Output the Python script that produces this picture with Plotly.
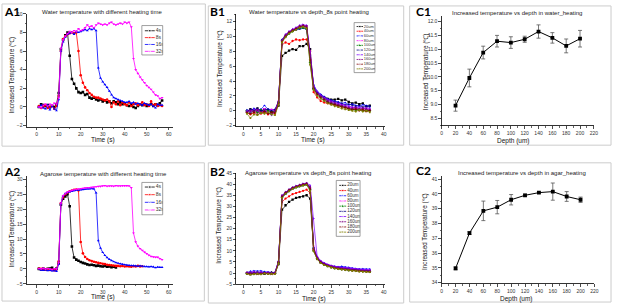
import plotly.graph_objects as go

W, H = 617, 307
FONT = "Liberation Sans"

# ---------------- data ----------------
time_a = list(range(1, 58))
time_b = list(range(1, 37))

heat_names = ["4s", "8s", "16s", "32s"]
heat_colors = ["#000000", "#FF0000", "#0000FF", "#FF00FF"]
heat_symbols = ["square", "circle", "triangle-up", "triangle-down"]

a1_4s = [0.0, 0.3, 0.2, 0.1, 0.2, 0.0, 0.1, 0.0, 0.3, 1.5,
         6.2, 7.2, 7.7, 8.0, 5.5, 3.0, 2.5, 2.0, 1.6, 1.5,
         1.6, 1.3, 1.4, 1.0, 0.9, 1.0, 0.8, 0.7, 0.8, 0.6,
         0.7, 0.5, 0.6, 0.4, 0.6, 0.5, 0.3, 0.5, 0.3, 0.4,
         0.2, 0.1, 0.3, 0.0, -0.1, 0.1, 0.3, 0.2, 0.3, 0.1,
         0.2, 0.3, 0.1, 0.3, 0.2, 0.4, 0.7]
a1_8s = [0.1, -0.1, 0.0, 0.2, -0.1, 0.0, 0.1, -0.2, 0.1, 1.2,
         6.0, 7.3, 7.6, 7.8, 7.9, 8.0, 7.9, 8.0, 6.0, 3.4,
         2.6, 2.1, 1.8, 1.5, 1.3, 1.1, 1.0, 1.0, 0.9, 0.8,
         0.7, 0.8, 0.6, 0.0, 0.5, 0.3, 0.6, 0.2, 0.5, 0.3,
         0.2, 0.5, 0.1, 0.3, 0.4, 0.2, 0.3, 0.5, 0.2, 0.3,
         0.1, 0.6, 0.2, 0.3, 0.1, 0.2, 0.1]
a1_16s = [0.0, 0.2, -0.1, -0.2, 0.2, -0.3, 0.1, -0.2, -0.4, 0.8,
          6.0, 7.0, 7.5, 7.8, 7.9, 8.0, 7.8, 8.1, 8.0, 8.1,
          8.2, 8.3, 8.2, 8.4, 8.3, 8.4, 8.2, 4.2, 3.1, 2.7,
          2.4, 2.1, 1.7, 1.3, 1.0, 0.9, 0.8, 0.7, 0.6, 0.5,
          0.5, 0.6, 0.4, 0.5, 0.3, 0.4, 0.3, 0.2, 0.4, 0.3,
          0.2, 0.3, 0.1, -0.1, 0.3, 0.2, 0.2]
a1_32s = [0.0, -0.1, 0.2, 0.3, 0.1, 0.3, 0.2, 0.4, 0.3, 1.0,
          6.3, 7.2, 7.6, 7.9, 8.1, 8.0, 8.2, 8.1, 8.4, 8.2,
          8.3, 8.5, 8.8, 8.6, 8.7, 8.5, 8.8, 9.0, 8.9, 8.8,
          8.9, 8.8, 9.0, 9.1, 8.9, 8.8, 8.9, 9.0, 8.9, 9.1,
          9.0, 9.1, 8.6, 5.2, 4.0, 3.6, 3.2, 2.9, 2.6, 2.3,
          2.1, 1.9, 1.6, 1.3, 1.2, 0.9, 1.0]

a2_4s = [0.0, -0.2, 0.1, -0.3, 0.0, 0.1, 0.4, -0.2, 0.1, 2.0,
         21.5, 23.5, 24.3, 25.0, 21.0, 7.5, 3.8, 3.1, 2.7, 2.3,
         2.0, 1.8, 1.5, 1.3, 1.4, 1.2, 1.0, 1.1, 0.9, 0.8,
         1.0, 0.7, 0.8, 0.6, 0.7, 0.5]
a2_8s = [0.1, 0.0, -0.3, -0.2, -0.1, -0.4, -0.3, -0.5, -0.2, 2.5,
         22.0, 24.0, 25.0, 25.5, 26.0, 26.2, 26.5, 26.6, 26.3, 9.0,
         5.2, 4.0, 3.3, 2.9, 2.6, 2.4, 2.2, 2.0, 1.9, 1.7,
         1.6, 1.4, 1.3, 1.2, 1.1, 1.0, 1.0, 0.9, 1.0, 0.8,
         0.9, 0.8, 0.7, 0.9, 0.8, 1.0, 0.8, 0.9]
a2_16s = [0.0, -0.4, -0.5, -0.3, -0.6, -0.5, -0.7, -0.6, -0.8, 1.5,
          21.8, 24.5, 25.2, 25.6, 25.8, 26.0, 26.2, 26.3, 26.4, 26.5,
          26.6, 26.7, 26.8, 26.8, 26.9, 26.8, 25.5, 9.5, 7.0, 5.5,
          4.5, 3.8, 3.2, 2.8, 2.4, 2.1, 1.9, 1.7, 1.5, 1.4,
          1.3, 1.2, 1.1, 1.1, 1.0, 0.9, 1.0, 0.9, 0.8, 0.8,
          0.7, 0.8, 0.7, 0.4, 0.6, 0.5, 0.5]
a2_32s = [0.1, 0.0, 0.2, -0.1, 0.1, 0.0, -0.2, 0.1, 0.0, 2.0,
          22.0, 24.5, 25.3, 25.8, 26.0, 26.3, 26.5, 26.6, 26.8, 26.9,
          27.0, 27.1, 27.2, 27.2, 27.3, 27.4, 27.5, 27.6, 27.6, 27.8,
          27.9, 27.7, 27.8, 27.8, 27.7, 27.9, 27.8, 27.8, 27.9, 27.9,
          27.9, 27.8, 27.2, 12.0, 9.0, 7.6, 6.8, 6.2, 5.6, 5.1,
          4.6, 4.2, 4.0, 3.9, 3.9, 3.4, 3.1]

depth_names = ["20um", "40um", "60um", "80um", "100um",
               "120um", "140um", "160um", "180um", "200um"]
depth_colors = ["#000000", "#FF0000", "#0000FF", "#FF00FF", "#008000",
                "#000080", "#8000FF", "#800080", "#800000", "#808000"]
depth_symbols = ["square", "circle", "triangle-up", "triangle-down", "diamond",
                 "triangle-left", "triangle-right", "hexagon", "star", "pentagon"]

b1_20 = [-0.1, 0.2, 0.0, 0.3, -0.1, 0.2, 0.1, -0.2, 0.0, 0.7, 7.4, 7.8, 8.1, 8.3, 8.2, 8.7, 8.7, 9.0, 8.3, 3.0, 2.4, 2.0, 1.8, 1.6, 1.5, 1.5, 1.6, 1.4, 1.5, 1.2, 1.0, 1.1, 0.9, 1.0, 0.6, 0.7]
b1_40 = [-0.2, -0.5, -0.3, -0.1, -0.4, -0.2, -0.5, -0.3, -0.4, 1.0, 8.9, 9.2, 9.0, 9.4, 9.6, 9.5, 9.6, 9.6, 8.0, 2.5, 1.8, 1.3, 1.1, 1.0, 0.9, 0.8, 0.7, 0.6, 0.5, 0.3, 0.2, 0.3, 0.1, 0.2, 0.0, 0.1]
b1_60 = [0.1, 0.0, 0.3, 0.1, 0.2, 0.7, 0.2, 0.1, 0.1, 1.2, 9.3, 10.0, 10.4, 10.8, 10.9, 11.0, 11.1, 11.0, 7.5, 3.5, 2.6, 2.2, 1.9, 1.6, 1.4, 1.3, 1.2, 1.0, 1.1, 0.8, 0.9, 0.7, 0.6, 0.8, 0.7, 0.6]
b1_80 = [0.0, 0.1, -0.2, 0.2, 0.0, 0.3, -0.1, 0.2, 0.0, 1.3, 9.4, 10.1, 10.6, 10.9, 11.1, 11.3, 11.5, 11.4, 7.0, 3.2, 2.4, 2.0, 1.7, 1.4, 1.2, 1.0, 0.9, 0.8, 0.6, 0.5, 0.4, 0.5, 0.3, 0.4, 0.3, 0.2]
b1_100 = [0.0, -0.3, 0.1, -0.2, 0.1, -0.1, 0.0, -0.3, -0.1, 1.1, 9.5, 10.0, 10.4, 10.7, 11.0, 11.1, 11.2, 11.0, 6.5, 3.0, 2.3, 1.9, 1.5, 1.2, 1.0, 0.9, 0.8, 0.6, 0.5, 0.3, 0.2, 0.1, 0.2, 0.0, 0.1, 0.0]
b1_120 = [-0.1, 0.2, 0.1, 0.3, 0.0, 0.1, 0.2, 0.0, 0.2, 1.2, 9.6, 10.2, 10.6, 10.9, 11.0, 11.2, 11.4, 11.3, 7.2, 3.3, 2.5, 2.1, 1.8, 1.5, 1.3, 1.2, 1.1, 1.0, 0.8, 0.9, 0.7, 0.6, 0.7, 0.5, 0.6, 0.5]
b1_140 = [0.0, -0.2, 0.2, 0.0, -0.3, 0.1, -0.2, -0.6, -0.1, 1.3, 9.5, 10.3, 10.7, 11.0, 11.2, 11.5, 11.6, 11.5, 8.0, 3.4, 2.6, 2.1, 1.8, 1.5, 1.3, 1.1, 1.0, 0.8, 0.7, 0.6, 0.5, 0.4, 0.5, 0.3, 0.4, 0.3]
b1_160 = [-0.2, 0.0, -0.1, 0.1, -0.2, 0.0, -0.3, -0.4, 0.0, 1.2, 9.4, 10.2, 10.6, 10.9, 11.1, 11.4, 11.5, 11.4, 7.6, 3.1, 2.3, 1.9, 1.6, 1.3, 1.1, 1.0, 0.8, 0.7, 0.5, 0.4, 0.3, 0.4, 0.2, 0.3, 0.2, 0.1]
b1_180 = [-0.3, -0.4, -0.2, -0.5, -0.3, -0.1, -0.4, -0.2, -0.3, 0.9, 9.3, 10.0, 10.5, 10.8, 11.0, 11.3, 11.4, 11.2, 6.8, 2.9, 2.2, 1.7, 1.4, 1.1, 0.9, 0.8, 0.6, 0.5, 0.4, 0.2, 0.1, 0.2, 0.0, 0.1, -0.1, 0.0]
b1_200 = [-0.4, -1.0, -0.5, -0.6, -0.3, -0.4, -0.2, -0.5, -0.6, 0.8, 9.2, 9.9, 10.4, 10.7, 10.9, 11.2, 11.3, 11.1, 6.2, 2.8, 2.0, 1.6, 1.3, 1.0, 0.8, 0.6, 0.5, 0.3, 0.2, 0.1, 0.0, -0.1, 0.1, -0.1, 0.0, -0.2]

b2_20 = [0.0, -0.5, 0.2, -0.3, 0.1, -0.4, 0.0, -0.2, 0.1, 4.0, 28.5, 30.5, 32.0, 33.0, 33.8, 34.2, 34.5, 35.0, 33.5, 11.0, 6.5, 4.8, 4.0, 3.4, 3.0, 2.6, 2.4, 2.2, 2.0, 1.8, 1.6, 1.4, 1.3, 1.2, 1.0, 0.9]
b2_40 = [0.2, -0.3, 0.0, 0.4, -0.2, 0.1, -0.3, 0.2, 0.0, 5.0, 32.0, 33.5, 34.5, 35.5, 36.0, 36.5, 37.0, 37.5, 36.0, 10.5, 6.8, 5.0, 4.2, 3.6, 3.1, 2.7, 2.5, 2.3, 2.1, 1.9, 1.7, 1.5, 1.4, 1.3, 1.1, 1.0]
b2_60 = [0.3, 0.8, 1.0, 0.9, 1.0, 0.6, 0.5, 0.3, 0.2, 5.5, 34.0, 35.5, 36.8, 37.8, 38.5, 39.0, 39.5, 39.8, 38.0, 11.5, 7.0, 5.2, 4.3, 3.7, 3.3, 3.0, 2.8, 3.0, 2.7, 2.5, 2.2, 2.0, 1.8, 1.9, 1.7, 1.8]
b2_80 = [0.0, 0.3, 0.5, 0.2, 0.4, 0.1, 0.3, 0.0, 0.2, 5.2, 34.5, 36.0, 37.2, 38.2, 38.8, 39.3, 39.8, 40.2, 38.5, 12.0, 7.2, 5.3, 4.4, 3.8, 3.3, 2.9, 2.6, 2.5, 2.3, 2.1, 1.9, 1.7, 1.6, 1.5, 1.4, 1.3]
b2_100 = [-0.2, 0.0, -0.4, 0.1, -0.3, 0.0, -0.2, 0.1, -0.1, 4.8, 34.0, 35.8, 37.0, 38.0, 38.6, 39.0, 39.5, 39.8, 37.5, 10.0, 6.5, 4.8, 3.8, 3.2, 2.6, 2.2, 1.9, 1.7, 1.5, 1.3, 1.2, 1.0, 0.9, 0.8, 0.7, 0.6]
b2_120 = [0.1, -0.2, 0.3, 0.0, 0.2, -0.1, 0.1, 0.3, 0.0, 5.0, 34.5, 36.2, 37.4, 38.4, 39.0, 39.5, 40.0, 40.3, 38.8, 11.0, 7.0, 5.2, 4.3, 3.6, 3.1, 2.8, 2.5, 2.3, 2.1, 1.9, 1.7, 1.5, 1.4, 1.3, 1.2, 1.1]
b2_140 = [0.0, 0.2, -0.1, 0.3, 0.1, 0.0, 0.2, -0.1, 0.1, 5.3, 35.0, 36.5, 37.6, 38.5, 39.2, 39.7, 40.2, 40.5, 39.5, 24.5, 7.5, 5.5, 4.5, 3.8, 3.3, 2.9, 2.7, 2.5, 2.4, 2.2, 2.0, 1.8, 1.7, 1.6, 1.5, 1.4]
b2_160 = [-0.1, 0.1, -0.3, 0.0, -0.2, 0.1, -0.1, 0.0, -0.2, 5.0, 34.8, 36.3, 37.5, 38.4, 39.0, 39.6, 40.0, 40.4, 38.6, 10.8, 6.8, 5.0, 4.0, 3.4, 2.9, 2.5, 2.2, 2.0, 1.8, 1.6, 1.4, 1.2, 1.1, 1.0, 0.9, 0.8]
b2_180 = [-0.3, -0.6, -0.2, -0.5, -0.4, -0.1, -0.3, -0.5, -0.2, 4.5, 34.2, 36.0, 37.2, 38.2, 38.8, 39.3, 39.8, 40.0, 37.8, 10.2, 6.4, 4.7, 3.8, 3.1, 2.6, 2.2, 1.9, 1.7, 1.5, 1.3, 1.1, 1.0, 0.8, 0.7, 0.6, 0.5]
b2_200 = [-0.4, -0.7, -0.5, -0.3, -0.6, -0.2, -0.4, -0.3, -0.5, 4.2, 33.8, 35.6, 36.8, 37.8, 38.5, 39.0, 39.4, 39.7, 37.0, 9.8, 6.2, 4.5, 3.6, 3.0, 2.5, 2.1, 1.8, 1.6, 1.4, 1.2, 1.0, 0.9, 0.7, 0.6, 0.5, 0.4]

depth_um = [20, 40, 60, 80, 100, 120, 140, 160, 180, 200]
c1_mean = [8.96, 9.96, 10.88, 11.29, 11.24, 11.36, 11.64, 11.41, 11.12, 11.38]
c1_err = [0.20, 0.32, 0.23, 0.21, 0.21, 0.11, 0.24, 0.19, 0.25, 0.30]
c2_mean = [34.97, 37.35, 38.85, 39.10, 39.60, 39.90, 40.08, 40.15, 39.82, 39.60]
c2_err = [0.10, 0.10, 0.66, 0.45, 0.35, 0.08, 0.05, 0.58, 0.33, 0.18]

a1_series = [a1_4s, a1_8s, a1_16s, a1_32s]
a2_series = [a2_4s, a2_8s, a2_16s, a2_32s]
b1_series = [b1_20, b1_40, b1_60, b1_80, b1_100, b1_120, b1_140, b1_160, b1_180, b1_200]
b2_series = [b2_20, b2_40, b2_60, b2_80, b2_100, b2_120, b2_140, b2_160, b2_180, b2_200]

# ---------------- helpers ----------------
def px(p):
    return p / W


def py(p):
    return 1 - p / H


def xdom(p0, p1):
    return [px(p0), px(p1)]


def ydom(top, bottom):
    return [py(bottom), py(top)]


TICKFONT = dict(family=FONT, size=5, color="#333333")


def axis(dom, rng, dtick, minor, anchor, fmt=None):
    d = dict(domain=dom, range=rng, anchor=anchor, showgrid=False, zeroline=False,
             showline=True, linecolor="#000000", linewidth=0.8, ticks="outside",
             ticklen=2.5, tickwidth=0.7, tickcolor="#000000", tick0=0, dtick=dtick,
             tickfont=TICKFONT, fixedrange=True,
             minor=dict(ticks="outside", ticklen=1.3, tickwidth=0.6, dtick=minor,
                        tick0=0, tickcolor="#000000", showgrid=False))
    if fmt:
        d["tickformat"] = fmt
    return d


layout = dict(width=W, height=H, autosize=False, margin=dict(l=0, r=0, t=0, b=0),
              paper_bgcolor="white", plot_bgcolor="rgba(0,0,0,0)", showlegend=False,
              hovermode=False, font=dict(family=FONT, color="#222222"))

panels = [
    # id, xdom px, ydom px (top, bottom), xrange, yrange, xdtick, ydtick, xminor, yminor, yfmt
    ("", (26, 173.5), (11, 126.5), [-4.5, 62], [-2.15, 10], 10, 2, 5, 1, None),
    ("2", (237.3, 386.7), (11.5, 126), [-2, 40.2], [-2.13, 13], 5, 2, 2.5, 1, None),
    ("3", (444.3, 597.7), (13.3, 125), [0, 220], [8.24, 12.2], 20, 0.5, 10, 0.25, ".1f"),
    ("4", (26, 173.5), (176.5, 287), [-4.5, 62], [-5.2, 31.1], 10, 5, 5, 2.5, None),
    ("5", (237.3, 386.7), (173.3, 287), [-2, 40.2], [-5.1, 45.05], 5, 5, 2.5, 2.5, None),
    ("6", (444.3, 598.3), (176.5, 286), [0, 220], [33.95, 41.2], 20, 1, 10, 0.5, None),
]
for pid, xd, yd, xr, yr, xdt, ydt, xm, ym, yf in panels:
    layout["xaxis" + pid] = axis(xdom(*xd), xr, xdt, xm, "y" + pid)
    layout["yaxis" + pid] = axis(ydom(*yd), yr, ydt, ym, "x" + pid, yf)

fig = go.Figure()

# A panels
for pid, series in (("", a1_series), ("4", a2_series)):
    for name, vals, col, sym in zip(heat_names, series, heat_colors, heat_symbols):
        fig.add_trace(go.Scatter(x=time_a[:len(vals)], y=vals, name=name, mode="lines+markers",
                                 line=dict(color=col, width=0.8),
                                 marker=dict(color=col, size=2.6, symbol=sym),
                                 xaxis="x" + pid, yaxis="y" + pid))

# B panels
for pid, series in (("2", b1_series), ("5", b2_series)):
    for name, vals, col, sym in zip(depth_names, series, depth_colors, depth_symbols):
        fig.add_trace(go.Scatter(x=time_b[:len(vals)], y=vals, name=name, mode="lines+markers",
                                 line=dict(color=col, width=0.7),
                                 marker=dict(color=col, size=2.3, symbol=sym),
                                 xaxis="x" + pid, yaxis="y" + pid))

# C panels
for pid, mean, err in (("3", c1_mean, c1_err), ("6", c2_mean, c2_err)):
    fig.add_trace(go.Scatter(x=depth_um, y=mean, mode="lines+markers",
                             line=dict(color="#000000", width=1),
                             marker=dict(color="#000000", size=3.8, symbol="square"),
                             error_y=dict(type="data", array=err, color="#555555",
                                          thickness=0.8, width=2),
                             xaxis="x" + pid, yaxis="y" + pid))

# ---------------- legends (drawn as small boxes) ----------------
legends = [
    # axis id, box px (x0, y0, x1, y1), names, colors, symbols, first item offset, spacing, line x0, x1, text x, font
    ("7", (142, 23, 163, 53), heat_names, heat_colors, heat_symbols, 5.3, 7.0, 3, 13, 14, 5),
    ("8", (142, 183, 163, 216), heat_names, heat_colors, heat_symbols, 4.7, 7.8, 3, 13, 14, 5),
    ("9", (356, 20, 377, 71), depth_names, depth_colors, depth_symbols, 4.0, 4.8, 2.5, 9, 9.8, 4),
    ("10", (338, 181, 362, 238), depth_names, depth_colors, depth_symbols, 5.0, 5.3, 3, 10, 11, 4.5),
]
shapes = []
for lid, (bx0, by0, bx1, by1), names, cols, syms, first, step, lx0, lx1, tx, fs in legends:
    bw, bh = bx1 - bx0, by1 - by0
    layout["xaxis" + lid] = dict(domain=xdom(bx0, bx1), range=[0, bw], visible=False,
                                 anchor="y" + lid, fixedrange=True)
    layout["yaxis" + lid] = dict(domain=ydom(by0, by1), range=[bh, 0], visible=False,
                                 anchor="x" + lid, fixedrange=True)
    ys = [first + i * step for i in range(len(names))]
    for yv, col, sym in zip(ys, cols, syms):
        fig.add_trace(go.Scatter(x=[lx0, (lx0 + lx1) / 2, lx1], y=[yv, yv, yv],
                                 mode="lines+markers", line=dict(color=col, width=0.8),
                                 marker=dict(color=col, size=[0, 2.4, 0], symbol=sym),
                                 xaxis="x" + lid, yaxis="y" + lid))
    fig.add_trace(go.Scatter(x=[tx] * len(names), y=ys, text=names, mode="text",
                             textposition="middle right",
                             textfont=dict(family=FONT, size=fs, color="#333333"),
                             xaxis="x" + lid, yaxis="y" + lid))
    shapes.append(dict(type="rect", xref="paper", yref="paper", x0=px(bx0), x1=px(bx1),
                       y0=py(by1), y1=py(by0), line=dict(color="#777777", width=0.7)))

# panel frames
frames = [(1, 1, 206, 146), (209, 3, 406, 145), (412, 3, 615, 145),
          (1, 163, 205, 304), (209, 163, 406, 306), (412, 163, 615, 305)]
for x0, y0, x1, y1 in frames:
    shapes.append(dict(type="rect", xref="paper", yref="paper", x0=px(x0), x1=px(x1),
                       y0=py(y1), y1=py(y0), line=dict(color="#cccccc", width=1)))
layout["shapes"] = shapes

# ---------------- text ----------------
ann = []


def text(t, x, y, size, color="#222222", xanchor="center", angle=0, bold=False, family=FONT):
    ann.append(dict(text=("<b>%s</b>" % t) if bold else t, x=px(x), y=py(y), xref="paper",
                    yref="paper", showarrow=False, xanchor=xanchor, yanchor="middle",
                    textangle=angle, font=dict(family=family, size=size, color=color)))


panel_labels = [("A1", 1, 8.5), ("B1", 209, 8.5), ("C1", 416, 9),
                ("A2", 1, 171.5), ("B2", 209, 171.5), ("C2", 416, 171)]
for t, x, y in panel_labels:
    text(t, x, y, 12, color="#000000", xanchor="left", bold=True, family="Lato")

titles = [("Water temperature with different heating time", 102, 9),
          ("Water temperature vs depth_8s point heating", 311, 9),
          ("Increased temperature vs depth in water_heating", 520, 10),
          ("Agarose temperature with different heating time", 103, 174),
          ("Agarose temperature vs depth_8s point heating", 310, 173),
          ("Increased temperature vs depth in agar_heating", 525, 173)]
for t, x, y in titles:
    text(t, x, y, 6)

xtitles = [("Time (s)", 103, 140), ("Time (s)", 315, 139.5), ("Depth (um)", 517, 141),
           ("Time (s)", 103, 300), ("Time (s)", 316, 301.5), ("Depth (um)", 520, 301.5)]
for t, x, y in xtitles:
    text(t, x, y, 6.5, color="#111111")

ytitle = "Increased Temperature (\u2103)"
for x, y in ((11, 73), (220, 67), (428, 70), (11, 230), (219, 227), (428, 233)):
    text(ytitle, x, y, 6.3, angle=-90)

layout["annotations"] = ann
fig.update_layout(**layout)
fig.write_html("out.html", config={"displayModeBar": False, "staticPlot": True},
               post_script="document.body.style.margin='0';document.body.style.overflow='hidden';")
